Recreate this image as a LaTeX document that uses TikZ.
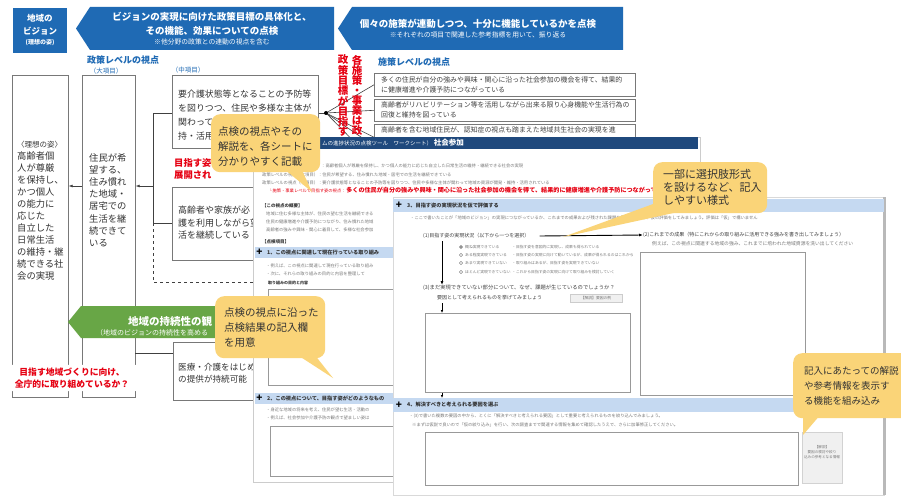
\documentclass[tikz,border=0pt]{standalone}
\usepackage{fontspec}
\setmainfont{Noto Sans CJK JP}
\usetikzlibrary{arrows.meta}
\definecolor{bblue}{RGB}{31,106,180}
\definecolor{dblue}{RGB}{31,73,125}
\definecolor{lblue}{RGB}{197,217,241}
\definecolor{ggreen}{RGB}{104,166,70}
\definecolor{cyel}{RGB}{250,212,120}
\definecolor{rred}{RGB}{230,0,18}
\definecolor{tgray}{RGB}{120,120,120}
\definecolor{bgray}{RGB}{120,120,120}
\newcommand\myfs[2]{\fontsize{#1}{#2}\selectfont}
\begin{document}
\begin{tikzpicture}[x=1pt,y=-1pt,
 bantxt/.style={text=white, font=\bfseries\myfs{9.5}{11}, inner sep=0},
 bansub/.style={text=white, font=\myfs{6.8}{8}, inner sep=0},
 hdr/.style={text=bblue, font=\bfseries\myfs{9}{10}, inner sep=0, anchor=west},
 hsub/.style={text=bblue, font=\myfs{6.5}{7}, inner sep=0},
 pbox/.style={draw=bgray, line width=0.7, anchor=north west, inner sep=0},
 ptxt/.style={text=black!80, align=left, anchor=west, inner sep=0},
 sbox/.style={draw=bgray, line width=0.6, anchor=north west, inner sep=0},
 stxt/.style={text=black!75, font=\myfs{6.9}{10}, align=left, anchor=west, inner sep=0},
 conn/.style={draw=black!75, line width=0.6},
 arr/.style={conn, -{Latex[length=4pt,width=3pt]}},
 gtxt/.style={text=tgray, font=\myfs{4.3}{5}, anchor=west, inner sep=0},
 ktxt/.style={text=black!80, font=\bfseries\myfs{5.2}{6}, anchor=west, inner sep=0},
 lbar/.style={fill=lblue, anchor=north west, inner sep=0},
 plussign/.style={text=black, font=\bfseries\myfs{10}{10}, inner sep=0},
 wbox/.style={draw=black!40, line width=0.5, anchor=north west, inner sep=0},
 cbox/.style={fill=cyel, rounded corners=9pt, anchor=north west, inner sep=0},
 ctxt/.style={text=black!80, font=\myfs{10.5}{15}, align=left, anchor=west, inner sep=0}
]
\useasboundingbox[fill=white] (0,0) rectangle (901,500);

% ---------- top banners ----------
\node[fill=bblue, minimum width=54, minimum height=45, anchor=north west, inner sep=0] (vision) at (13,8) {};
\node[text=white, font=\bfseries\myfs{8.5}{13}, align=center, inner sep=0] (visiontxt) at (40,25) {地域の\\ビジョン};
\node[text=white, font=\bfseries\myfs{6}{7}, inner sep=0] (visionsub) at (40,43) {(理想の姿)};

\fill[bblue] (76,28.5) -- (90,7) -- (334,7) -- (334,50) -- (90,50) -- cycle;
\fill[bblue] (338,28.5) -- (352,7) -- (623,7) -- (623,50) -- (352,50) -- cycle;
\node[bantxt] (b1a) at (212,17) {ビジョンの実現に向けた政策目標の具体化と、};
\node[bantxt] (b1b) at (212,31) {その機能、効果についての点検};
\node[bansub] (b1c) at (212,42) {※他分野の政策との連動の視点を含む};
\node[bantxt] (b2a) at (478,24) {個々の施策が連動しつつ、十分に機能しているかを点検};
\node[bansub] (b2b) at (478,35) {※それぞれの項目で関連した参考指標を用いて、振り返る};

% ---------- headers ----------
\node[hdr] (h1) at (87,60) {政策レベルの視点};
\node[hsub] (h1s) at (106,71) {（大項目）};
\node[hsub] (h2s) at (188,70) {（中項目）};
\node[hdr] (h3) at (378,62) {施策レベルの視点};

% ---------- policy-level boxes ----------
\node[pbox, minimum width=56, minimum height=322] (ideal) at (12,75) {};
\node[ptxt, font=\myfs{9.3}{12}] (idealtxt) at (17,211) {{\myfs{7.5}{12}〈理想の姿〉}\\高齢者個\\人が尊厳\\を保持し、\\かつ個人\\の能力に\\応じた\\自立した\\日常生活\\の維持・継\\続できる社\\会の実現};
\node[pbox, minimum width=53, minimum height=322] (resident) at (82,75) {};
\node[ptxt, font=\myfs{9.3}{12.2}] (residenttxt) at (89,200) {住民が希\\望する、\\住み慣れ\\た地域・\\居宅での\\生活を継\\続できて\\いる};

\node[pbox, minimum width=146, minimum height=73] (mid1) at (172,75) {};
\node[ptxt, font=\myfs{8.9}{14}] (mid1txt) at (178,115) {要介護状態等となることの予防等\\を図りつつ、住民や多様な主体が\\関わって\\持・活用};
\node[ptxt, text=rred, font=\bfseries\myfs{9.3}{12}] (redmid) at (174,169) {目指す姿\\展開され};
\node[pbox, minimum width=120, minimum height=73] (mid2) at (172,187) {};
\node[ptxt, font=\myfs{9}{12.5}] (mid2txt) at (178,223) {高齢者や家族が必\\護を利用しながら望\\活を継続している};
\node[pbox, minimum width=120, minimum height=58] (mid3) at (173,342) {};
\node[ptxt, font=\myfs{8.6}{12}] (mid3txt) at (178,373) {医療・介護をはじめ\\の提供が持続可能};

\coordinate (j1) at (153,113);
\coordinate (j2) at (153,223);
\coordinate (j3) at (153,186);
\coordinate (j4) at (153,282);
\coordinate (j5) at (262,282);
\coordinate (j6) at (135,353);
\draw[conn] (mid1.west |- j1) -- (j1) -- (j2) -- (mid2.west |- j2);
\draw[arr] (j3) -- (resident.east |- j3);
\draw[arr] (resident.west |- j3) -- (ideal.east |- j3);
\draw[conn, dashed] (j2) -- (j4) -- (j5);
\draw[conn] (j6) -- (mid3.west |- j6);

% green arrow
\fill[ggreen] (68,322) -- (81,306) -- (262,306) -- (262,338) -- (81,338) -- cycle;
\node[text=white, font=\bfseries\myfs{10.5}{11}, anchor=west, inner sep=0] (gt1) at (128,321) {地域の持続性の観};
\node[text=white, font=\myfs{7}{8}, anchor=west, inner sep=0] (gt2) at (96,333) {（地域のビジョンの持続性を高める};

% goal text
\node[fill=white, rounded corners=4pt, text=rred, font=\bfseries\myfs{8.8}{12}, align=center, minimum width=134, inner sep=3] (goal) at (72,378) {目指す地域づくりに向け、\\全庁的に取り組めているか？};

% ---------- measure-level boxes ----------
\node[sbox, minimum width=261, minimum height=23] (sA) at (374,73) {};
\node[stxt] (sAt) at (381,84.5) {多くの住民が自分の強みや興味・関心に沿った社会参加の機会を得て、結果的\\に健康増進や介護予防につながっている};
\node[sbox, minimum width=261, minimum height=22] (sB) at (374,99) {};
\node[stxt] (sBt) at (381,110) {高齢者がリハビリテーション等を活用しながら出来る限り心身機能や生活行為の\\回復と維持を図っている};
\node[sbox, minimum width=261, minimum height=26] (sC) at (374,124) {};
\node[stxt] (sCt) at (381,129.5) {高齢者を含む地域住民が、認知症の視点も踏まえた地域共生社会の実現を進};

\coordinate (fan) at (326,113);
\coordinate (f4) at (374,146);
\coordinate (f5) at (374,162);
\draw[conn] (mid1.east |- fan) -- (fan);
\draw[conn] (fan) -- (sA.west);
\draw[conn] (fan) -- (sB.west);
\draw[conn] (fan) -- (sC.west);
\draw[conn] (fan) -- (f4);
\draw[conn] (fan) -- (f5);
\fill[black] (fan) circle (2);

\node[text=rred, font=\bfseries\myfs{10.5}{10.1}, align=center, inner sep=0] (vR) at (357,95.5) {各\\施\\策\\・\\事\\業\\は\\政};
\node[text=rred, font=\bfseries\myfs{10.5}{10.1}, align=center, inner sep=0] (vL) at (343,95.5) {政\\策\\目\\標\\が\\目\\指\\す};

% ---------- worksheet 1 ----------
\node[fill=white, draw=gray!40, anchor=north west, minimum width=447, minimum height=345, inner sep=0] (ws1) at (253,137) {};
\node[fill=dblue, anchor=north west, minimum width=445, minimum height=12, inner sep=0] (ws1hdr) at (253,137) {};
\node[text=white, anchor=west, inner sep=0] (ws1title) at (322,143) {{\myfs{5.5}{6}ムの進捗状況の点検ツール　ワークシート）}\,{\bfseries\myfs{7.5}{8}社会参加}};
\node[gtxt] (w1l1) at (321,166) {：高齢者個人が尊厳を保持し、かつ個人の能力に応じた自立した日常生活の維持・継続できる社会の実現};
\node[gtxt] (w1l2) at (262,175) {政策レベルの視点（大項目）：住民が希望する、住み慣れた地域・居宅での生活を継続できている};
\node[gtxt] (w1l3) at (262,182.5) {政策レベルの視点（中項目）：要介護状態等となることの予防等を図りつつ、住民や多様な主体が関わって地域の資源が開発・維持・活用されている};
\node[gtxt, text=rred] (w1l4) at (268,190.5) {└施策・事業レベルで目指す姿の視点：\,{\bfseries\myfs{6.1}{7}多くの住民が自分の強みや興味・関心に沿った社会参加の機会を得て、結果的に健康増進や介護予防につながっている}};
\node[ktxt, font=\bfseries\myfs{4.5}{5}] (w1h1) at (262,206) {【この視点の概要】};
\node[gtxt] (w1l5) at (266,214) {地域に住む多様な主体が、住民の望む生活を継続できる};
\node[gtxt] (w1l6) at (266,222) {住民の健康増進や介護予防につながり、住み慣れた地域};
\node[gtxt] (w1l7) at (266,230) {高齢者の強みや興味・関心に着目して、多様な社会参加};
\node[ktxt, font=\bfseries\myfs{4.5}{5}] (w1h2) at (262,242) {【点検項目】};
\node[lbar, minimum width=138, minimum height=11] (bar1) at (255,247) {};
\node[plussign] (p1) at (259.5,252.5) {+};
\node[ktxt] (bar1t) at (267,252.5) {1、この視点に関連して現在行っている取り組み};
\node[gtxt] (w1l8) at (266,266) {・例えば、この視点に関連して現在行っている取り組み};
\node[gtxt] (w1l9) at (266,274) {・次に、それらの取り組みの目的と内容を整理して};
\node[ktxt, font=\bfseries\myfs{4}{5}] (w1h3) at (268,283) {取り組みの目的と内容};
\node[wbox, minimum width=132, minimum height=96] (w1b1) at (268,289) {};
\node[lbar, minimum width=138, minimum height=11] (bar2) at (255,393) {};
\node[plussign] (p2) at (259.5,398.5) {+};
\node[ktxt] (bar2t) at (267,398.5) {2、この視点について、目指す姿がどのようなもの};
\node[gtxt] (w1l10) at (266,410) {・身近な地域の将来を考え、住民が望む生活・活動の};
\node[gtxt] (w1l11) at (266,417.5) {・例えば、社会参加や介護予防の観点で望ましい姿は};
\node[wbox, minimum width=130, minimum height=50] (w1b2) at (270,426) {};

% ---------- worksheet 2 ----------
\node[fill=white, draw=gray!30, anchor=north west, minimum width=491, minimum height=298, inner sep=0] (ws2) at (393,197) {};
\draw[gray!55, line width=2.2] (ws2.north east) -- (ws2.south east);
\node[lbar, minimum width=491, minimum height=13] (bar3) at (393,199) {};
\node[plussign] (p3) at (399,205.5) {+};
\node[ktxt] (bar3t) at (407,205.5) {3、目指す姿の実現状況を仮で評価する};
\node[gtxt] (g3a) at (410,218) {・ここで書いたことが「地域のビジョン」の実現につながっているか、これまでの成果および残された課題を意識しながら、仮の評価をしてみましょう。評価は「仮」で構いません};
\node[gtxt, text=black!75, font=\myfs{5}{6}] (q1) at (423,236) {(1)目指す姿の実現状況（以下から一つを選択）};
\node[gtxt, text=black!75, font=\myfs{5}{6}] (q2) at (643,235) {(2)これまでの成果（特にこれからの取り組みに活用できる強みを書き出してみましょう）};
\node[gtxt, font=\myfs{4.8}{5}] (q2b) at (652,243.5) {例えば、この視点に関連する地域の強み、これまでに培われた地域資源を洗い出してください};
\draw[arr, draw=black, line width=0.9] ([xshift=10pt]q1.east) -- (q2.west);
\foreach \yy/\lab/\desc [count=\i] in {247/概ね実現できている/・目指す姿を意図的に実現し、成果も得られている,
 255/ある程度実現できている/・目指す姿の実現に向けて動いているが、成果が得られるのはこれから,
 263/あまり実現できていない/・取り組みはあるが、目指す姿を実現できていない,
 272/ほとんど実現できていない/・これから目指す姿の実現に向けて取り組みを検討していく}{
 \draw[black!60, line width=0.4] (461,\yy) circle (1.6);
 \node[gtxt, font=\myfs{3.8}{4}] (rl\i) at (465,\yy) {\lab};
 \node[gtxt, font=\myfs{3.8}{4}] (rd\i) at (512,\yy) {\desc};
}
\fill[black!70] (461,247) circle (0.9);
\coordinate (d1) at (442,241);
\node[gtxt, text=black!75, font=\myfs{5.3}{6}] (q3) at (423,288) {(3)まだ実現できていない部分について、なぜ、課題が生じているのでしょうか？};
\draw[arr, draw=black, line width=0.9] (d1) -- (d1 |- q3.north);
\node[gtxt, text=black!75, font=\myfs{5}{6}] (q3b) at (437,297.5) {要因として考えられるものを挙げてみましょう};
\node[fill=gray!12, draw=gray!40, minimum width=52, minimum height=8, inner sep=0, font=\myfs{3.8}{4}, text=tgray] (btn) at (596,298.5) {【解説】要因の例};
\node[wbox, minimum width=205, minimum height=79] (box3) at (425,313) {};
\coordinate (d2) at (442,303);
\draw[arr, draw=black, -{Latex[length=3pt,width=2.5pt]}] (d2) -- (d2 |- box3.north);
\node[wbox, minimum width=165, minimum height=143] (box2) at (640,252) {};
\node[lbar, minimum width=491, minimum height=14] (bar4) at (393,398) {};
\draw[arr, draw=black, -{Latex[length=3pt,width=2.5pt]}] (d2 |- box3.south) -- (d2 |- bar4.north);
\node[plussign] (p4) at (399,405) {+};
\node[ktxt] (bar4t) at (407,405) {4、解決すべきと考えられる要因を選ぶ};
\node[gtxt] (g4a) at (409,416) {・(3)で書いた複数の要因の中から、とくに「解決すべきと考えられる要因」として重要と考えられるものを絞り込んでみましょう。};
\node[gtxt] (g4b) at (412,425) {※まずは仮説で良いので「仮の絞り込み」を行い、次の調査までで関連する情報を集めて確認したうえで、さらに加筆修正してください。};
\node[wbox, minimum width=373, minimum height=53] (box4) at (425,432) {};
\node[fill=gray!12, draw=gray!35, minimum width=40, minimum height=51, anchor=north west, inner sep=0] (info) at (802,432) {};
\node[align=center, font=\myfs{3.6}{5}, text=tgray, inner sep=0] (infotxt) at (822,452) {【解説】\\要因の検討や絞り\\込みの参考となる情報};

% ---------- callouts ----------
\node[cbox, minimum width=109, minimum height=58] (c1) at (211,114) {};
\fill[cyel] (283,168) -- (312,192) -- (301,168) -- cycle;
\node[ctxt] (c1t) at (218,147) {点検の視点やその\\解説を、各シートに\\分かりやすく記載};

\node[cbox, minimum width=110, minimum height=62] (c2) at (215,296) {};
\fill[cyel] (296,354) -- (333,378) -- (314,354) -- cycle;
\node[ctxt] (c2t) at (224,328) {点検の視点に沿った\\点検結果の記入欄\\を用意};

\node[cbox, minimum width=114, minimum height=51] (c3) at (653,162) {};
\fill[cyel] (664,200) -- (563,237) -- (692,209) -- cycle;
\node[ctxt, font=\myfs{11}{13}] (c3t) at (663,187) {一部に選択肢形式\\を設けるなど、記入\\しやすい様式};

\node[cbox, minimum width=117, minimum height=65] (c4) at (793,353) {};
\fill[cyel] (803,414) -- (803,435) -- (821,414) -- cycle;
\node[ctxt, font=\myfs{9.5}{15}] (c4t) at (804,386) {記入にあたっての解説\\や参考情報を表示す\\る機能を組み込み};
\end{tikzpicture}
\end{document}
